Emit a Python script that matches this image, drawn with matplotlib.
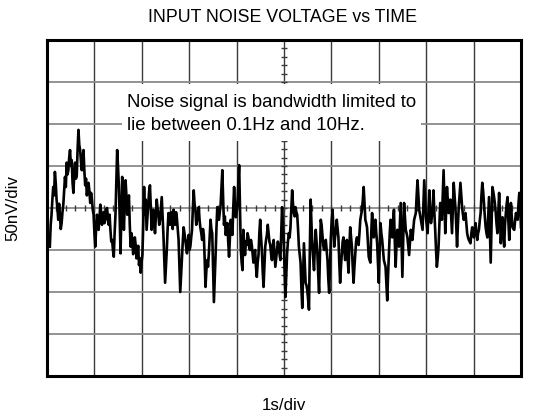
import numpy as np
import matplotlib
matplotlib.use("Agg")
import matplotlib.pyplot as plt
from matplotlib.patches import Rectangle

plt.rcParams['font.family'] = ['Liberation Sans', 'DejaVu Sans']

# Input noise voltage in nV (left to right, ~10 s)
noise_seg1 = [-46, -20, -8, 10, 25, 15, 43, 30, 10, 0, -14, 5, -11, -25, -18, -5, 4, 20, 37, 25,
              54, 40, 45, 60, 69, 50, 57, 30, 18, 40, 54, 35, 39, 70, 93, 75, 69, 55, 45, 60,
              69, 45, 27, 35, 15, 25, 30, 20, 6, 18, 10, -2, -8, -30, -46, -25, -8, -15, -26, -10,
              4, -5, -20, -10, -5, -18, -14, -2, 0, -12, -20, -8, -26, -40, -38, -50, -58, -30, -8, 30,
              69, 50, 27, -10, -54, -10, 37, 10, -26, 5, 33, 15, -8, 5, 15, -20, -46, -30, -38, -55,
              -50, -35, -44, -60, -52, -45, -68, -60, -77, -65, -56, -20, 25]
noise_seg2 = [-8, 10, -26, -10, 6, 20, 27, 0, -26, -15, -2, -18, -30, -10, 10, 0, -8, -20, -14, 0,
              13, -10, -32, -60, -89, -70, -50, -25, -6, -15, -20, -5, -14, -25, -2, -10, -20, -5, -12, -25,
              -38, -70, -100, -80, -62, -40, -23, -30, -38, -45, -54, -40, -32, -50, -46, -35, -26, 0, 21, 5,
              -2, -20, -14, -5, 1, -15, -24, -30, -38, -25, -32, -60, -94, -75, -62, -70, -54, -35, -14, -25,
              -30, -70, -112, -85, -56, -25, 1, -10, -14, -5, 4, 25, 45, 10, -20, -10, -32, -25, -18, -40,
              -58, -35, -14, -25, -32, 0, 25, 5, -11, -5, 4, 30, 51, 0, -50, -65, -74]
noise_seg3 = [-26, -45, -56, -40, -44, -30, -35, -48, -50, -38, -44, -55, -65, -55, -50, -70, -82, -65, -56, -30,
              -14, -35, -50, -75, -94, -70, -46, -38, -32, -20, -30, -40, -44, -55, -62, -45, -38, -55, -70, -60,
              -50, -40, -46, -55, -62, -30, 1, -20, -38, -75, -106, -80, -54, -40, -30, -35, -23, 0, 21, 5,
              -6, -10, 1, -5, -8, -25, -46, -55, -65, -95, -119, -80, -42, -65, -89, -92, -98, -110, -121, -50,
              10, -20, -46, -60, -74, -45, -26, -40, -54, -80, -101, -60, -14, -20, -32, -45, -50, -40, -38, -50,
              -62, -85, -101, -70, -35, -15, -2, -25, -46, -35, -26]
noise_seg4 = [-14, -25, -35, -65, -89, -70, -54, -40, -35, -50, -62, -50, -38, -60, -77, -45, -23, -35, -46, -70,
              -89, -70, -54, -40, -35, -40, -44, -30, -14, -8, -2, 10, 25, 5, -14, -18, -23, -40, -58, -62,
              -65, -30, -6, -20, -35, -25, -14, -30, -42, -65, -89, -50, -18, -30, -38, -50, -62, -66, -70, -90,
              -110, -80, -54, -30, -14, -25, -35, -15, -2, -40, -70, -45, -26, -35, -46, -20, 6, -40, -82, -40,
              6, -10, -26, -30, -35, -45, -56, -40, -26, -32, -38, -25, -14, -10, -6, 15, 33, 15, -2, -8,
              -14, -20, -26, 5, 33, 10, -11, -20, -30, -5, 21, 0, -18, -10, -2]
noise_seg5 = [21, -5, -26, -50, -70, -60, -46, -20, 6, -5, -14, 15, 45, 5, -30, -5, 25, 10, -6, 0,
              10, -10, -30, 0, 30, 15, 1, -20, -46, -20, 1, 15, 30, 15, 1, -8, -14, -10, -6, -18,
              -30, -35, -38, -40, -42, -30, -23, -30, -35, -25, -18, -30, -38, -30, -26, -15, -6, 15, 30, 20,
              6, -10, -23, -30, -35, -10, 13, -25, -65, -20, 25, 20, 13, 5, -6, -20, -30, -5, 18, -10,
              -42, -25, -11, -30, -46, -20, -6, 5, 13, -15, -38, -15, 6, -10, -23, -25, -26, -15, -6, -10,
              -14, 5, 18, 0, -23]

noise_nv = noise_seg1 + noise_seg2 + noise_seg3 + noise_seg4 + noise_seg5
t_start, t_end = 0.06, 10.0  # seconds (1 s/div, 10 div)

fig = plt.figure(figsize=(5.48, 4.19), dpi=100)
ax = fig.add_axes([47 / 548, 1 - 376 / 419, 474 / 548, 336 / 419])

ax.set_xlim(0, 10)
ax.set_ylim(-200, 200)
ax.set_xticks(np.arange(0, 11, 1))
ax.set_yticks(np.arange(-200, 201, 50))
ax.tick_params(length=0, labelbottom=False, labelleft=False)
ax.xaxis.grid(True, color='#3a3a3a', lw=1.0)
ax.yaxis.grid(True, color='#8a8a8a', lw=1.3)
ax.set_axisbelow(True)
for sp in ax.spines.values():
    sp.set_linewidth(2.2)
    sp.set_color('black')

# centre graticule minor marks
ax.plot(np.arange(0.2, 10, 0.2), np.zeros(49), ls='none', marker='|', ms=4, mew=1.0,
        color='#3a3a3a', zorder=1)
ax.plot(np.full(39, 5.0), np.arange(-190, 191, 10), ls='none', marker='_', ms=4, mew=1.0,
        color='#3a3a3a', zorder=1)

t = np.linspace(t_start, t_end, len(noise_nv))
ax.plot(t, noise_nv, color='black', lw=1.9, zorder=3)

ax.add_patch(Rectangle((1.58, 80), 6.31, 67.5, facecolor='white', edgecolor='none', zorder=2))
ax.text(1.69, 126, 'Noise signal is bandwidth limited to', fontsize=13.4, va='center', zorder=4)
ax.text(1.69, 98, 'lie between 0.1Hz and 10Hz.', fontsize=13.4, va='center', zorder=4)

fig.text(283 / 548, 1 - 17 / 419, 'INPUT NOISE VOLTAGE vs TIME', ha='center', va='center', fontsize=12.8)
fig.text(284 / 548, 1 - 405 / 419, '1s/div', ha='center', va='center', fontsize=12.2)
fig.text(13 / 548, 1 - 208 / 419, '50nV/div', ha='center', va='center', rotation=90, fontsize=12.2)

fig.savefig('out.png', dpi=100)
